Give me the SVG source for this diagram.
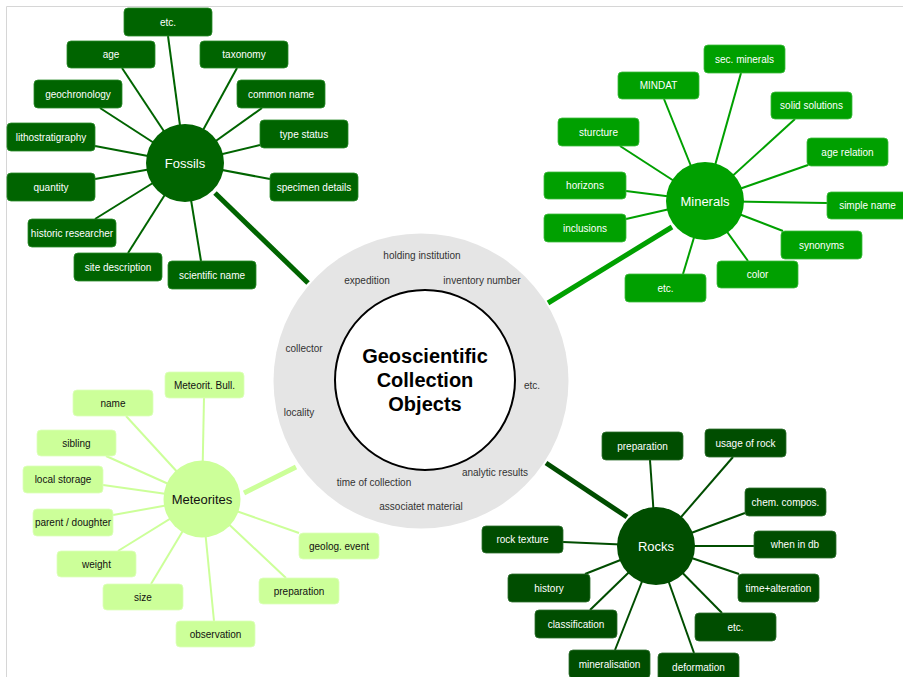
<svg xmlns="http://www.w3.org/2000/svg" width="903" height="677" viewBox="0 0 903 677">
<style>
text{font-family:"Liberation Sans",Arial,sans-serif;text-anchor:middle;dominant-baseline:central}
.sm{font-size:10px}
.hub{font-size:13px}
.wt{fill:#ffffff}
.bk{fill:#111111}
.ring{font-size:10px;fill:#333333}
.fo{fill:#006400;stroke:#2a8a2a;stroke-width:0.8}
.mi{fill:#00a000;stroke:#3dbb3d;stroke-width:0.8}
.ro{fill:#004d00;stroke:#2f6f2f;stroke-width:0.8}
.me{fill:#ccff99;stroke:#ddffbb;stroke-width:0.8}
.lf{stroke:#006400;stroke-width:2}
.lm{stroke:#00a000;stroke-width:2}
.lr{stroke:#004d00;stroke-width:2}
.le{stroke:#ccff99;stroke-width:2}
.thick{stroke-width:5}
</style>
<path d="M6.5,677 V6.5 H903" fill="none" stroke="#d6d6d6" stroke-width="1"/>
<g id="connectors" fill="none">
<line class="lf thick" x1="215" y1="193" x2="308" y2="283"/>
<line class="lm thick" x1="672" y1="227" x2="548" y2="303"/>
<line class="le thick" x1="244" y1="493" x2="296" y2="467"/>
<line class="lr thick" x1="627" y1="517" x2="546" y2="463"/>
<g class="lf">
<line x1="185" y1="163" x2="168" y2="36"/>
<line x1="185" y1="163" x2="122" y2="68"/>
<line x1="185" y1="163" x2="237" y2="68"/>
<line x1="185" y1="163" x2="100" y2="108"/>
<line x1="185" y1="163" x2="262" y2="108"/>
<line x1="185" y1="163" x2="95" y2="146"/>
<line x1="185" y1="163" x2="260" y2="145"/>
<line x1="185" y1="163" x2="95" y2="179"/>
<line x1="185" y1="163" x2="270" y2="179"/>
<line x1="185" y1="163" x2="95" y2="219"/>
<line x1="185" y1="163" x2="128" y2="253"/>
<line x1="185" y1="163" x2="201" y2="261"/>
</g>
<g class="lm">
<line x1="705" y1="201" x2="741" y2="73"/>
<line x1="705" y1="201" x2="664" y2="99"/>
<line x1="705" y1="201" x2="795" y2="119"/>
<line x1="705" y1="201" x2="620" y2="146"/>
<line x1="705" y1="201" x2="808" y2="165"/>
<line x1="705" y1="201" x2="626" y2="191"/>
<line x1="705" y1="201" x2="827" y2="203"/>
<line x1="705" y1="201" x2="626" y2="219"/>
<line x1="705" y1="201" x2="783" y2="231"/>
<line x1="705" y1="201" x2="748" y2="261"/>
<line x1="705" y1="201" x2="683" y2="274"/>
</g>
<g class="le">
<line x1="202" y1="499" x2="204" y2="398"/>
<line x1="202" y1="499" x2="126" y2="416"/>
<line x1="202" y1="499" x2="106" y2="456"/>
<line x1="202" y1="499" x2="103" y2="485"/>
<line x1="202" y1="499" x2="113" y2="515"/>
<line x1="202" y1="499" x2="118" y2="551"/>
<line x1="202" y1="499" x2="151" y2="584"/>
<line x1="202" y1="499" x2="214" y2="621"/>
<line x1="202" y1="499" x2="286" y2="578"/>
<line x1="202" y1="499" x2="299" y2="533"/>
</g>
<g class="lr">
<line x1="656" y1="546" x2="650" y2="460"/>
<line x1="656" y1="546" x2="733" y2="457"/>
<line x1="656" y1="546" x2="745" y2="513"/>
<line x1="656" y1="546" x2="563" y2="542"/>
<line x1="656" y1="546" x2="754" y2="546"/>
<line x1="656" y1="546" x2="585" y2="574"/>
<line x1="656" y1="546" x2="739" y2="574"/>
<line x1="656" y1="546" x2="590" y2="610"/>
<line x1="656" y1="546" x2="722" y2="613"/>
<line x1="656" y1="546" x2="615" y2="650"/>
<line x1="656" y1="546" x2="694" y2="653"/>
</g>
</g>
<g id="center">
<circle cx="421" cy="381" r="147.5" fill="#e5e5e5"/>
<circle cx="425" cy="380" r="90" fill="#ffffff" stroke="#000000" stroke-width="2"/>
<text x="425" y="356" font-size="20" font-weight="bold" fill="#000">Geoscientific</text>
<text x="425" y="380" font-size="20" font-weight="bold" fill="#000">Collection</text>
<text x="425" y="404" font-size="20" font-weight="bold" fill="#000">Objects</text>
<text class="ring" x="422" y="255">holding institution</text>
<text class="ring" x="367" y="280">expedition</text>
<text class="ring" x="482" y="280">inventory number</text>
<text class="ring" x="304" y="348">collector</text>
<text class="ring" x="532" y="385">etc.</text>
<text class="ring" x="299" y="412">locality</text>
<text class="ring" x="495" y="472">analytic results</text>
<text class="ring" x="374" y="482">time of collection</text>
<text class="ring" x="421" y="506">associatet material</text>
</g>
<g id="fossils">
<circle cx="185" cy="163" r="39" fill="#006400"/>
<text class="hub wt" x="185" y="163">Fossils</text>
<g id="fossils-etc"><rect class="fo" x="124" y="8" width="88" height="28" rx="4"/><text class="sm wt" x="168" y="22">etc.</text></g>
<g id="fossils-age"><rect class="fo" x="67" y="41" width="88" height="27" rx="4"/><text class="sm wt" x="111" y="54.5">age</text></g>
<g id="fossils-taxonomy"><rect class="fo" x="200" y="41" width="88" height="27" rx="4"/><text class="sm wt" x="244" y="54.5">taxonomy</text></g>
<g id="fossils-geochronology"><rect class="fo" x="34" y="80" width="88" height="28" rx="4"/><text class="sm wt" x="78" y="94">geochronology</text></g>
<g id="fossils-common-name"><rect class="fo" x="237" y="80" width="88" height="28" rx="4"/><text class="sm wt" x="281" y="94">common name</text></g>
<g id="fossils-lithostratigraphy"><rect class="fo" x="7" y="123" width="88" height="28" rx="4"/><text class="sm wt" x="51" y="137">lithostratigraphy</text></g>
<g id="fossils-type-status"><rect class="fo" x="260" y="120" width="88" height="28" rx="4"/><text class="sm wt" x="304" y="134">type status</text></g>
<g id="fossils-quantity"><rect class="fo" x="7" y="173" width="88" height="28" rx="4"/><text class="sm wt" x="51" y="187">quantity</text></g>
<g id="fossils-specimen-details"><rect class="fo" x="270" y="173" width="88" height="28" rx="4"/><text class="sm wt" x="314" y="187">specimen details</text></g>
<g id="fossils-historic-researcher"><rect class="fo" x="28" y="219" width="88" height="28" rx="4"/><text class="sm wt" x="72" y="233">historic researcher</text></g>
<g id="fossils-site-description"><rect class="fo" x="74" y="253" width="88" height="28" rx="4"/><text class="sm wt" x="118" y="267">site description</text></g>
<g id="fossils-scientific-name"><rect class="fo" x="168" y="261" width="88" height="28" rx="4"/><text class="sm wt" x="212" y="275">scientific name</text></g>
</g>
<g id="minerals">
<circle cx="705" cy="201" r="39" fill="#00a000"/>
<text class="hub wt" x="705" y="201">Minerals</text>
<g id="minerals-sec"><rect class="mi" x="704" y="45" width="81" height="28" rx="4"/><text class="sm wt" x="744.5" y="59">sec. minerals</text></g>
<g id="minerals-mindat"><rect class="mi" x="618" y="72" width="81" height="27" rx="4"/><text class="sm wt" x="658.5" y="85.5">MINDAT</text></g>
<g id="minerals-solid"><rect class="mi" x="771" y="92" width="81" height="27" rx="4"/><text class="sm wt" x="811.5" y="105.5">solid solutions</text></g>
<g id="minerals-sturcture"><rect class="mi" x="558" y="118" width="81" height="28" rx="4"/><text class="sm wt" x="598.5" y="132">sturcture</text></g>
<g id="minerals-age"><rect class="mi" x="807" y="138" width="81" height="28" rx="4"/><text class="sm wt" x="847.5" y="152">age relation</text></g>
<g id="minerals-horizons"><rect class="mi" x="544" y="172" width="82" height="27" rx="4"/><text class="sm wt" x="585" y="185.5">horizons</text></g>
<g id="minerals-simple"><rect class="mi" x="827" y="192" width="81" height="27" rx="4"/><text class="sm wt" x="867.5" y="205.5">simple name</text></g>
<g id="minerals-inclusions"><rect class="mi" x="544" y="214" width="82" height="28" rx="4"/><text class="sm wt" x="585" y="228">inclusions</text></g>
<g id="minerals-synonyms"><rect class="mi" x="781" y="231" width="81" height="28" rx="4"/><text class="sm wt" x="821.5" y="245">synonyms</text></g>
<g id="minerals-color"><rect class="mi" x="717" y="261" width="81" height="27" rx="4"/><text class="sm wt" x="757.5" y="274.5">color</text></g>
<g id="minerals-etc"><rect class="mi" x="625" y="274" width="81" height="28" rx="4"/><text class="sm wt" x="665.5" y="288">etc.</text></g>
</g>
<g id="meteorites">
<circle cx="202" cy="499" r="38.5" fill="#ccff99"/>
<text class="hub bk" x="202" y="499">Meteorites</text>
<g id="met-bull"><rect class="me" x="165" y="372" width="79" height="26" rx="4"/><text class="sm bk" x="204.5" y="385">Meteorit. Bull.</text></g>
<g id="met-name"><rect class="me" x="73" y="390" width="80" height="26" rx="4"/><text class="sm bk" x="113" y="403">name</text></g>
<g id="met-sibling"><rect class="me" x="37" y="430" width="79" height="26" rx="4"/><text class="sm bk" x="76.5" y="443">sibling</text></g>
<g id="met-storage"><rect class="me" x="23" y="466" width="80" height="27" rx="4"/><text class="sm bk" x="63" y="479.5">local storage</text></g>
<g id="met-parent"><rect class="me" x="33" y="509" width="80" height="27" rx="4"/><text class="sm bk" x="73" y="522.5">parent / doughter</text></g>
<g id="met-weight"><rect class="me" x="57" y="551" width="79" height="26" rx="4"/><text class="sm bk" x="96.5" y="564">weight</text></g>
<g id="met-size"><rect class="me" x="103" y="584" width="80" height="26" rx="4"/><text class="sm bk" x="143" y="597">size</text></g>
<g id="met-observation"><rect class="me" x="176" y="621" width="79" height="26" rx="4"/><text class="sm bk" x="215.5" y="634">observation</text></g>
<g id="met-preparation"><rect class="me" x="259" y="578" width="80" height="26" rx="4"/><text class="sm bk" x="299" y="591">preparation</text></g>
<g id="met-geolog"><rect class="me" x="299" y="533" width="80" height="26" rx="4"/><text class="sm bk" x="339" y="546">geolog. event</text></g>
</g>
<g id="rocks">
<circle cx="656" cy="546" r="39" fill="#004d00"/>
<text class="hub wt" x="656" y="546">Rocks</text>
<g id="rocks-preparation"><rect class="ro" x="602" y="432" width="81" height="28" rx="4"/><text class="sm wt" x="642.5" y="446">preparation</text></g>
<g id="rocks-usage"><rect class="ro" x="705" y="429" width="81" height="28" rx="4"/><text class="sm wt" x="745.5" y="443">usage of rock</text></g>
<g id="rocks-chem"><rect class="ro" x="745" y="488" width="81" height="28" rx="4"/><text class="sm wt" x="785.5" y="502">chem. compos.</text></g>
<g id="rocks-texture"><rect class="ro" x="482" y="526" width="81" height="27" rx="4"/><text class="sm wt" x="522.5" y="539.5">rock texture</text></g>
<g id="rocks-when"><rect class="ro" x="754" y="531" width="82" height="27" rx="4"/><text class="sm wt" x="795" y="544.5">when in db</text></g>
<g id="rocks-history"><rect class="ro" x="508" y="574" width="82" height="28" rx="4"/><text class="sm wt" x="549" y="588">history</text></g>
<g id="rocks-time"><rect class="ro" x="738" y="574" width="81" height="28" rx="4"/><text class="sm wt" x="778.5" y="588">time+alteration</text></g>
<g id="rocks-classification"><rect class="ro" x="535" y="610" width="82" height="28" rx="4"/><text class="sm wt" x="576" y="624">classification</text></g>
<g id="rocks-etc"><rect class="ro" x="695" y="613" width="81" height="28" rx="4"/><text class="sm wt" x="735.5" y="627">etc.</text></g>
<g id="rocks-mineralisation"><rect class="ro" x="569" y="650" width="81" height="28" rx="4"/><text class="sm wt" x="609.5" y="664">mineralisation</text></g>
<g id="rocks-deformation"><rect class="ro" x="658" y="653" width="81" height="28" rx="4"/><text class="sm wt" x="698.5" y="667">deformation</text></g>
</g>
</svg>
